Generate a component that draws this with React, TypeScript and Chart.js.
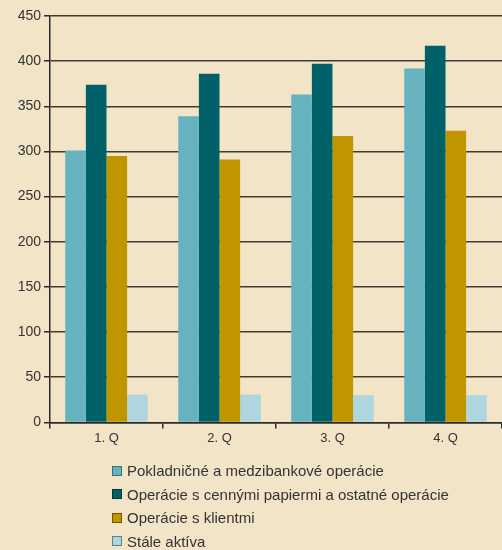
import React, { useEffect, useRef } from "react";
import { Chart, registerables } from "chart.js";

Chart.register(...registerables);

const quarters = ["1. Q", "2. Q", "3. Q", "4. Q"];
const pokladnicne = [301, 339, 363, 392];
const cennePapiere = [374, 386, 397, 417];
const klienti = [295, 291, 317, 323];
const staleAktiva = [31, 31, 30, 30];
const yTicks = [0, 50, 100, 150, 200, 250, 300, 350, 400, 450];

const seriesNames = [
  "Pokladničné a medzibankové operácie",
  "Operácie s cennými papiermi a ostatné operácie",
  "Operácie s klientmi",
  "Stále aktíva",
];
const colors = ["#66b3bf", "#006268", "#bf9500", "#afd5de"];
const borders = ["#3d6f78", "#003a3e", "#6e5600", "#5f7f88"];

const BG = "#f2e4c6";
const FONT = "'Liberation Sans', Arial, sans-serif";

export default function App() {
  const canvasRef = useRef<HTMLCanvasElement | null>(null);

  useEffect(() => {
    const canvas = canvasRef.current;
    if (!canvas) return;
    const chart = new Chart(canvas, {
      type: "bar",
      data: {
        labels: quarters,
        datasets: [pokladnicne, cennePapiere, klienti, staleAktiva].map((d, i) => ({
          label: seriesNames[i],
          data: d,
          backgroundColor: colors[i],
          borderWidth: 0,
          barPercentage: 1,
          categoryPercentage: 0.73,
        })),
      },
      options: {
        responsive: false,
        animation: false,
        layout: { padding: { top: 16, right: 0, left: 0, bottom: 0 } },
        plugins: {
          legend: { display: false },
          tooltip: { enabled: false },
        },
        scales: {
          x: {
            grid: {
              display: true,
              drawOnChartArea: true,
              offset: true,
              tickLength: 6,
              color: (ctx: any) => (ctx.index === quarters.length ? "#8a8070" : "rgba(0,0,0,0)"),
              tickColor: "#2b2b2b",
              lineWidth: 1.5,
            },
            border: { display: true, color: "#2b2b2b", width: 1.5 },
            ticks: { color: "#333", font: { family: FONT, size: 13 }, padding: 2 },
          },
          y: {
            min: 0,
            max: 450,
            afterFit: (scale: any) => {
              scale.width = 50;
            },
            afterBuildTicks: (scale: any) => {
              scale.ticks = yTicks.map((v) => ({ value: v }));
            },
            grid: {
              color: "#3f3a32",
              lineWidth: 1.5,
              tickLength: 6,
              tickColor: "#2b2b2b",
            },
            border: { display: true, color: "#2b2b2b", width: 1.5 },
            ticks: { color: "#333", font: { family: FONT, size: 14 }, padding: 3 },
          },
        },
      },
    });
    return () => chart.destroy();
  }, []);

  return (
    <div
      style={{
        position: "fixed",
        left: 0,
        top: 0,
        width: 502,
        height: 550,
        background: BG,
        fontFamily: FONT,
      }}
    >
      <canvas ref={canvasRef} width={502} height={448} style={{ display: "block" }} />
      <div style={{ position: "absolute", left: 112, top: 459 }}>
        {seriesNames.map((name, i) => (
          <div
            key={name}
            style={{
              display: "flex",
              alignItems: "center",
              height: 23.5,
              fontSize: 15,
              color: "#333",
              whiteSpace: "nowrap",
            }}
          >
            <span
              style={{
                display: "inline-block",
                width: 8,
                height: 8,
                background: colors[i],
                border: `1px solid ${borders[i]}`,
                marginRight: 5,
              }}
            />
            {name}
          </div>
        ))}
      </div>
    </div>
  );
}
